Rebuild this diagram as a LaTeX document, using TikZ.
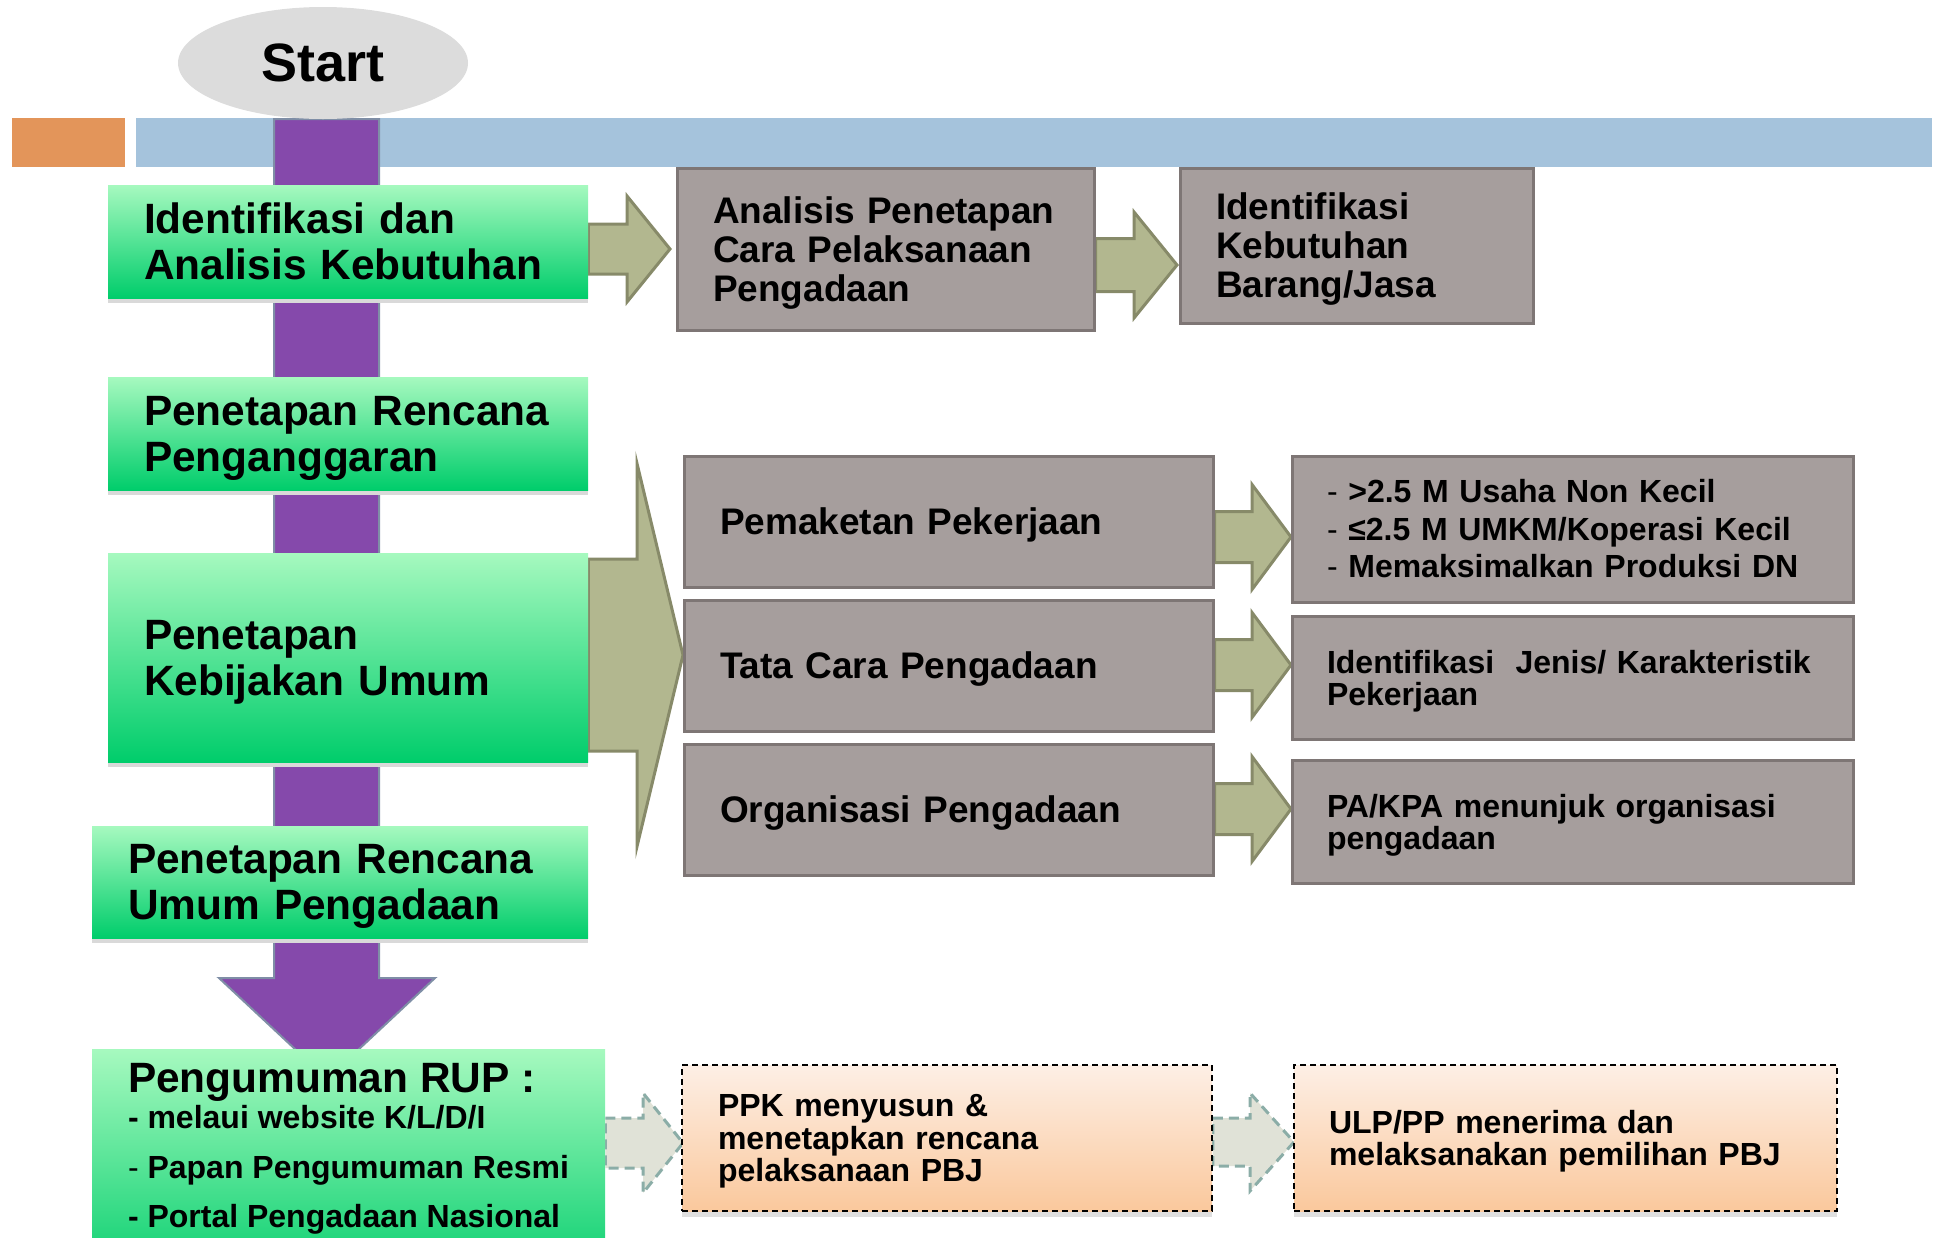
\documentclass[tikz,border=0pt]{standalone}
\usepackage{fontspec}
\setmainfont{Liberation Sans}
\usetikzlibrary{calc,shapes.geometric,shadows}

\definecolor{barblue}{HTML}{A5C3DC}
\definecolor{barorange}{HTML}{E3955A}
\definecolor{flowpurple}{HTML}{8549AB}
\definecolor{flowpurpleedge}{HTML}{7F8EA6}
\definecolor{startgrey}{HTML}{DCDCDC}
\definecolor{greentop}{HTML}{A6F9BF}
\definecolor{greenbottom}{HTML}{00CD6B}
\definecolor{greenshadow}{HTML}{D9D9D9}
\definecolor{olivefill}{HTML}{B2B78F}
\definecolor{oliveedge}{HTML}{878A69}
\definecolor{taupefill}{HTML}{A69E9D}
\definecolor{taupeedge}{HTML}{7E7675}
\definecolor{peachtop}{HTML}{FDEFE5}
\definecolor{peachbottom}{HTML}{FAC89C}
\definecolor{palefill}{HTML}{E0E2D7}
\definecolor{paleedge}{HTML}{8BADA7}

\pgfdeclarelayer{arrows}
\pgfsetlayers{arrows,main}

% last line of a label, set without its descender depth so the text block is centred on its letters
\newcommand\flatline[1]{\raisebox{0pt}[\height][0pt]{#1}}

% block arrow: style, start, tip, shaft half-width, head half-width, head length
\newcommand\blockarrow[6]{%
  \draw[#1] ($(#2)+(0,-#4)$) -- ($(#3)+(-#6,-#4)$) -- ($(#3)+(-#6,-#5)$) -- (#3)
    -- ($(#3)+(-#6,#5)$) -- ($(#3)+(-#6,#4)$) -- ($(#2)+(0,#4)$) -- cycle;}

\begin{document}
\begin{tikzpicture}[x=0.5pt,y=-0.5pt,
  startnode/.style={ellipse, fill=startgrey, minimum width=145pt, minimum height=56pt,
    font=\bfseries\fontsize{27}{30}\selectfont},
  flowarrow/.style={fill=flowpurple, draw=flowpurpleedge, line width=1pt, line join=miter},
  greenbox/.style={rectangle, top color=greentop, bottom color=greenbottom, draw=none,
    inner xsep=18pt, inner ysep=0pt, align=left,
    drop shadow={shadow xshift=0pt, shadow yshift=-2.5pt, fill=greenshadow, opacity=1},
    font=\bfseries\fontsize{21.2}{23}\selectfont},
  taupebox/.style={rectangle, fill=taupefill, draw=taupeedge, line width=1.5pt,
    inner xsep=18pt, inner ysep=0pt, align=left,
    font=\bfseries\fontsize{18.5}{19.5}\selectfont},
  notebox/.style={rectangle, fill=taupefill, draw=taupeedge, line width=1.5pt,
    inner xsep=17.5pt, inner ysep=0pt, align=left, text width=245.5pt,
    minimum width=280.5pt, font=\bfseries\fontsize{16}{16}\selectfont},
  peachbox/.style={rectangle, top color=peachtop, bottom color=peachbottom,
    draw=black, line width=0.8pt, dash pattern=on 3pt off 2pt,
    drop shadow={shadow xshift=0pt, shadow yshift=-3pt, opacity=0.25},
    inner xsep=18pt, inner ysep=0pt, align=left, minimum height=73pt,
    font=\bfseries\fontsize{16}{16.1}\selectfont},
  olivearrow/.style={fill=olivefill, draw=oliveedge, line width=1.5pt, line join=miter},
  palearrow/.style={fill=palefill, draw=paleedge, line width=1.5pt, dash pattern=on 5pt off 3pt},
  rupline/.style={anchor=base west, inner sep=0pt, font=\bfseries\fontsize{16}{16}\selectfont}
]
\useasboundingbox (0,0) rectangle (1936,1237);
\clip (0,0) rectangle (1936,1237);

% header band
\fill[barorange] (12,118) rectangle (125,167);
\fill[barblue] (136,118) rectangle (1932,167);

% main vertical flow arrow
\draw[flowarrow] (274,119) -- (379,119) -- (379,978) -- (435,978) -- (327,1079)
  -- (219,978) -- (274,978) -- cycle;

\node[startnode] (start) at (323,63) {Start};

% main stages
\node[greenbox, minimum width=240pt, text width=204pt, minimum height=56.5pt] (g1) at (348,241.5)
  {Identifikasi dan\\Analisis Kebutuhan};
\node[greenbox, minimum width=240pt, text width=204pt, minimum height=56.5pt] (g2) at (348,433.5)
  {Penetapan Rencana\\\flatline{Penganggaran}};
\node[greenbox, minimum width=240pt, text width=204pt, minimum height=104.5pt] (g3) at (348,657.5)
  {Penetapan\\\flatline{Kebijakan Umum}};
\node[greenbox, minimum width=248pt, text width=212pt, minimum height=56pt] (g4) at (340,882)
  {Penetapan Rencana\\\flatline{Umum Pengadaan}};
\node[greenbox, minimum width=256.5pt, text width=220.5pt, minimum height=120pt, anchor=north] (rup) at (348.5,1049) {};
\node[rupline, font=\bfseries\fontsize{21.2}{23}\selectfont] (rupt) at ($(rup.north west)+(36,43)$) {Pengumuman RUP :};
\node[rupline] (rup1) at ($(rup.north west)+(36,79)$) {- melaui website K/L/D/I};
\node[rupline] (rup2) at ($(rup.north west)+(36,129)$) {{\mdseries -} Papan Pengumuman Resmi};
\node[rupline] (rup3) at ($(rup.north west)+(36,178)$) {- Portal Pengadaan Nasional};

% needs analysis
\node[taupebox, minimum width=208.5pt, text width=172.5pt, minimum height=81pt] (an) at (885.5,249)
  {Analisis Penetapan\\Cara Pelaksanaan\\\flatline{Pengadaan}};
\node[taupebox, minimum width=176.5pt, text width=140.5pt, minimum height=77.5pt] (kb) at (1356.5,245.5)
  {Identifikasi\\Kebutuhan\\\flatline{Barang/Jasa}};

% general policy
\node[taupebox, minimum width=264.5pt, text width=228.5pt, minimum height=65.5pt] (m1) at (948.5,521.5)
  {\flatline{Pemaketan Pekerjaan}};
\node[taupebox, minimum width=264.5pt, text width=228.5pt, minimum height=65.5pt] (m2) at (948.5,665.5)
  {\flatline{Tata Cara Pengadaan}};
\node[taupebox, minimum width=264.5pt, text width=228.5pt, minimum height=65.5pt] (m3) at (948.5,809.5)
  {\flatline{Organisasi Pengadaan}};

\node[notebox, minimum height=73pt] (r1) at (1572.5,529)
  {\fontsize{16}{18.75}\selectfont
   \mbox{{\mdseries -} >2.5 M Usaha Non Kecil}\\
   \mbox{{\mdseries -} ≤2.5 M UMKM/Koperasi Kecil}\\
   \mbox{{\mdseries -} Memaksimalkan Produksi DN}\par};
\node[notebox, minimum height=61.5pt] (r2) at (1572.5,677.5)
  {\mbox{Identifikasi\ \ Jenis/ Karakteristik}\\\flatline{Pekerjaan}};
\node[notebox, minimum height=61.5pt] (r3) at (1572.5,821.5)
  {\mbox{PA/KPA menunjuk organisasi}\\\flatline{pengadaan}};

% execution
\node[peachbox, minimum width=265pt, text width=229pt] (p1) at (947,1138)
  {PPK menyusun \&\\menetapkan rencana\\\flatline{pelaksanaan PBJ}};
\node[peachbox, minimum width=271.5pt, text width=236.5pt, inner xsep=17.5pt] (p2) at (1565.5,1138)
  {ULP/PP menerima dan\\\flatline{melaksanakan pemilihan PBJ}};

% arrow tips
\coordinate (t1) at (670,249);
\coordinate (t2) at (1177,265);
\coordinate (tb) at (683,655);
\coordinate (tr1) at (1291,537);
\coordinate (tr2) at (1291,665);
\coordinate (tr3) at (1291,809);
\coordinate (td1) at (683,1143);
\coordinate (td2) at (1294,1142);

\coordinate (s1) at (g1.east |- t1);
\coordinate (s2) at (an.east |- t2);
\coordinate (sb) at (g3.east |- tb);
\coordinate (sr1) at (m1.east |- tr1);
\coordinate (sr2) at (m2.east |- tr2);
\coordinate (sr3) at (m3.east |- tr3);
\coordinate (sd1) at (rup.east |- td1);
\coordinate (sd2) at (p1.east |- td2);

\begin{pgfonlayer}{arrows}
  \blockarrow{olivearrow}{s1}{t1}{25}{53}{43}
  \blockarrow{olivearrow}{s2}{t2}{26.5}{53}{43}
  \blockarrow{olivearrow}{sb}{tb}{96}{191.5}{46}
  \blockarrow{olivearrow}{sr1}{tr1}{25.5}{52.5}{39}
  \blockarrow{olivearrow}{sr2}{tr2}{25.5}{52.5}{39}
  \blockarrow{olivearrow}{sr3}{tr3}{25.5}{52.5}{39}
  \blockarrow{palearrow}{sd1}{td1}{25}{50}{40}
  \blockarrow{palearrow}{sd2}{td2}{24}{49}{44}
\end{pgfonlayer}
\end{tikzpicture}
\end{document}
